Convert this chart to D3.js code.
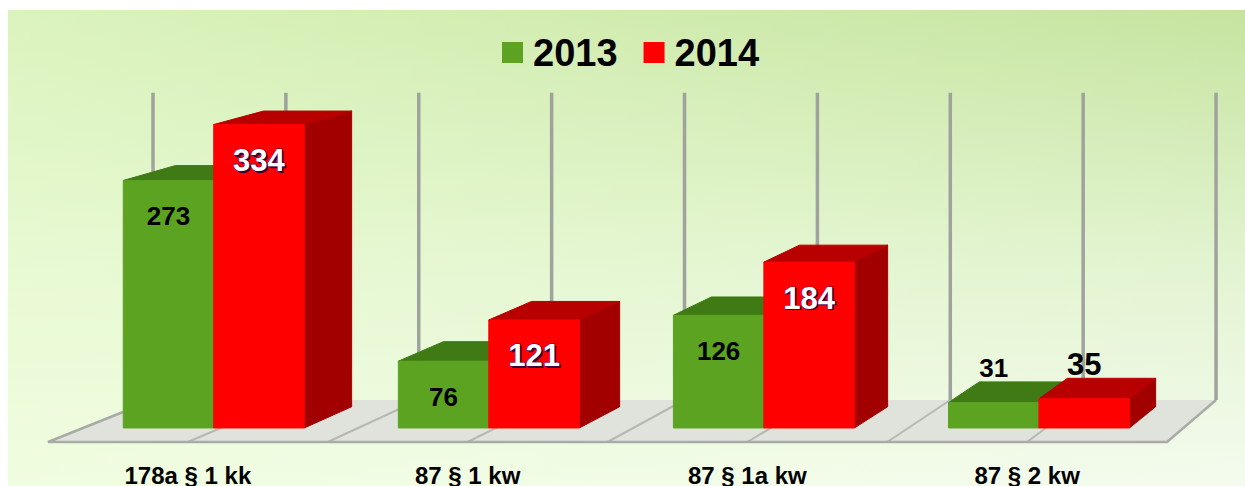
<!DOCTYPE html>
<html>
<head>
<meta charset="utf-8">
<script src="https://cdn.jsdelivr.net/npm/d3@7"></script>
<style>
  html, body { margin: 0; padding: 0; background: #fff; }
  text { font-family: "Liberation Sans", Arial, sans-serif; font-weight: bold; }
</style>
</head>
<body>
<svg id="viz"></svg>
<script>
// chart data
var categories = ['178a § 1 kk', '87 § 1 kw', '87 § 1a kw', '87 § 2 kw'];
var series = ['2013', '2014'];
var values2013 = [273, 76, 126, 31];
var values2014 = [334, 121, 184, 35];

var width = 1245;
var height = 486;

var svg = d3.select('#viz')
            .attr('width', width)
            .attr('height', height);

var defs = svg.append('defs');

// background gradients
var bgV = defs.append('linearGradient').attr('id', 'bgV')
              .attr('x1', 0).attr('y1', 0).attr('x2', 0).attr('y2', 1);
bgV.append('stop').attr('offset', 0).attr('stop-color', '#c6e4a0');
bgV.append('stop').attr('offset', 0.55).attr('stop-color', '#e3f4d2');
bgV.append('stop').attr('offset', 1).attr('stop-color', '#f4fbee');

var bgH = defs.append('linearGradient').attr('id', 'bgH')
              .attr('x1', 0).attr('y1', 0).attr('x2', 1).attr('y2', 0);
bgH.append('stop').attr('offset', 0).attr('stop-color', '#ecffd4').attr('stop-opacity', 0.55);
bgH.append('stop').attr('offset', 1).attr('stop-color', '#ecffd4').attr('stop-opacity', 0);

svg.append('rect').attr('x', 8).attr('y', 10).attr('width', width - 8).attr('height', height - 10)
   .attr('fill', 'url(#bgV)');
svg.append('rect').attr('x', 8).attr('y', 10).attr('width', width - 8).attr('height', height - 10)
   .attr('fill', 'url(#bgH)');

// simple one-point perspective: world coords are the front plane, z goes 0 (front) .. 1 (back of floor)
var vx = 2148, vy = -398, shrink = 0.05;
function proj(x, y, z) {
    var s = 1 - shrink * z;
    return [vx + (x - vx) * s, vy + (y - vy) * s];
}
function poly(pts) {
    return 'M' + pts.map(function(p){ return proj(p[0], p[1], p[2]).join(','); }).join('L') + 'Z';
}

var floorY = 442;

var xScale = d3.scaleBand()
               .domain(categories)
               .range([48, 1167]);

// half-category grid positions
var gridScale = d3.scaleLinear().domain([0, 8]).range([48, 1167]);

var yScale = d3.scaleLinear()
               .domain([0, 350])
               .range([floorY + 3, floorY + 3 - 350 * 0.933]);

var groupWidth = 184;
var innerScale = d3.scaleBand()
                   .domain(series)
                   .range([0, groupWidth]);

var g = svg.append('g');

// floor
g.append('path')
 .attr('d', poly([[48, floorY, 0], [1167, floorY, 0], [1167, floorY, 1], [48, floorY, 1]]))
 .attr('fill', '#e0e2dc');

// floor divider lines
var gridIdx = d3.range(0, 9);
g.selectAll('.floorline')
 .data(gridIdx.slice(1, 8))
 .enter().append('path')
 .attr('class', 'floorline')
 .attr('d', function(i){ var x = gridScale(i); return 'M' + proj(x, floorY, 0) + 'L' + proj(x, floorY, 1); })
 .attr('stroke', '#b6b8b2')
 .attr('stroke-width', 2)
 .attr('fill', 'none');

// floor outer edges
g.append('path')
 .attr('d', 'M' + proj(48, floorY, 1) + 'L' + proj(48, floorY, 0) + 'L' + proj(1167, floorY, 0) + 'L' + proj(1167, floorY, 1))
 .attr('stroke', '#a9aba6')
 .attr('stroke-width', 2.5)
 .attr('fill', 'none');

// back wall grid lines
g.selectAll('.gridline')
 .data(gridIdx)
 .enter().append('path')
 .attr('class', 'gridline')
 .attr('d', function(i){ var x = gridScale(i); return 'M' + proj(x, floorY, 1) + 'L' + proj(x, yScale(350), 1); })
 .attr('stroke', '#a0a39d')
 .attr('stroke-width', 3.5)
 .attr('fill', 'none');

// bars
var colors = {
    '2013': { front: '#5ba320', top: '#3f7a15', side: '#3a6e12' },
    '2014': { front: '#ff0000', top: '#b80000', side: '#a20000' }
};

var zf = 0.334, zb = 0.84;
var bars = [];
categories.forEach(function(c, i){
    bars.push({ cat: c, ser: '2013', value: values2013[i] });
    bars.push({ cat: c, ser: '2014', value: values2014[i] });
});

bars.forEach(function(d){
    var x0 = xScale(d.cat) + (xScale.bandwidth() - groupWidth) / 2 - 7 + innerScale(d.ser);
    var x1 = x0 + innerScale.bandwidth();
    var yt = yScale(d.value), yb = floorY;
    var col = colors[d.ser];
    var bg = g.append('g').attr('class', 'bar');
    bg.append('path')
      .attr('d', poly([[x1, yt, zf], [x1, yt, zb], [x1, yb, zb], [x1, yb, zf]]))
      .attr('fill', col.side).attr('stroke', col.side).attr('stroke-width', 1).attr('stroke-linejoin', 'round');
    bg.append('path')
      .attr('d', poly([[x0, yt, zf], [x1, yt, zf], [x1, yt, zb], [x0, yt, zb]]))
      .attr('fill', col.top).attr('stroke', col.top).attr('stroke-width', 1).attr('stroke-linejoin', 'round');
    bg.append('path')
      .attr('d', poly([[x0, yt, zf], [x1, yt, zf], [x1, yb, zf], [x0, yb, zf]]))
      .attr('fill', col.front).attr('stroke', col.front).attr('stroke-width', 1).attr('stroke-linejoin', 'round');

    // value label
    var top = proj((x0 + x1) / 2, yt, zf);
    var inside = (yb - yt) > 50;
    var fs = d.ser === '2013' ? 26 : 31;
    var ly = inside ? top[1] + 36 : top[1] - 34;
    if (d.ser === '2014' && inside) {
        g.append('text')
         .attr('x', top[0] + 1.5).attr('y', ly + 1.5)
         .attr('text-anchor', 'middle').attr('dominant-baseline', 'central')
         .attr('font-size', fs).attr('fill', '#2e0030')
         .text(d.value);
        g.append('text')
         .attr('x', top[0]).attr('y', ly)
         .attr('text-anchor', 'middle').attr('dominant-baseline', 'central')
         .attr('font-size', fs).attr('fill', '#fff')
         .attr('stroke', '#4a0050').attr('stroke-width', 1.2).attr('paint-order', 'stroke')
         .text(d.value);
    } else {
        g.append('text')
         .attr('x', top[0]).attr('y', ly)
         .attr('text-anchor', 'middle').attr('dominant-baseline', 'central')
         .attr('font-size', fs).attr('fill', '#000')
         .text(d.value);
    }
});

// category labels
g.selectAll('.catlabel')
 .data(categories)
 .enter().append('text')
 .attr('class', 'catlabel')
 .attr('x', function(d){ return xScale(d) + xScale.bandwidth() / 2; })
 .attr('y', 484)
 .attr('text-anchor', 'middle')
 .attr('font-size', 24)
 .attr('fill', '#000')
 .text(function(d){ return d; });

// legend
var legend = svg.append('g').attr('class', 'legend');
var lx = 502;
series.forEach(function(s){
    legend.append('rect')
          .attr('x', lx).attr('y', 42).attr('width', 21).attr('height', 21)
          .attr('fill', colors[s].front);
    var t = legend.append('text')
          .attr('x', lx + 31).attr('y', 66)
          .attr('font-size', 38).attr('fill', '#000')
          .text(s);
    lx = lx + 31 + t.node().getComputedTextLength() + 26;
});
</script>
</body>
</html>
